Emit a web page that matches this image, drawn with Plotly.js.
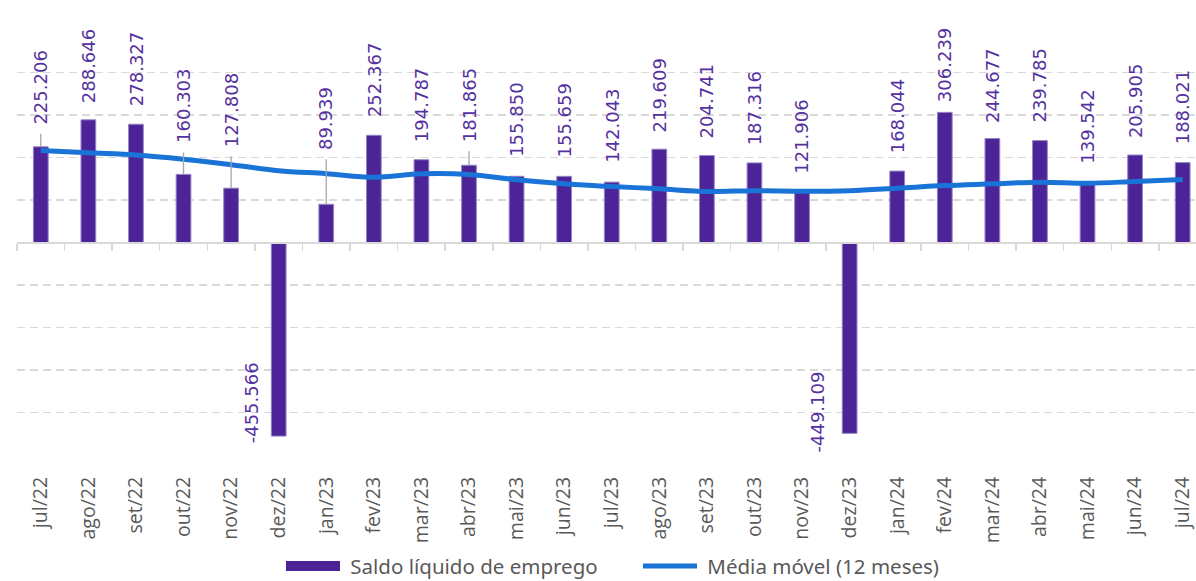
<!DOCTYPE html>
<html>
<head>
<meta charset="utf-8">
<script src="https://cdn.plot.ly/plotly-3.0.1.min.js"></script>
<style>html,body{margin:0;padding:0;background:#fff;}#chart{width:1196px;height:581px;}</style>
</head>
<body>
<div id="chart"></div>
<script>
// Data (milhares)
const categories = ['jul/22','ago/22','set/22','out/22','nov/22','dez/22','jan/23','fev/23','mar/23','abr/23','mai/23','jun/23','jul/23','ago/23','set/23','out/23','nov/23','dez/23','jan/24','fev/24','mar/24','abr/24','mai/24','jun/24','jul/24'];
const saldoLiquido = [225.206, 288.646, 278.327, 160.303, 127.808, -455.566, 89.939, 252.367, 194.787, 181.865, 155.850, 155.659, 142.043, 219.609, 204.741, 187.316, 121.906, -449.109, 168.044, 306.239, 244.677, 239.785, 139.542, 205.905, 188.021];
const mediaMovel = [216.5, 211, 206, 196, 183, 169, 162, 153.6, 161.6, 160, 147.5, 138, 131.8, 126.3, 120, 122, 120.8, 122, 127.8, 134, 138, 142, 139.6, 143.5, 148];

// Label placement styling (pixels), as manually placed in the original
const labelGap = [20, 15, 16, 29, 39, -9, 52, 16, 16, 21, 17, 17, 17, 15, 15, 16, 15, -21, 16, 8, 14, 16, 17, 15, 16];
const labelDx  = [0, 0, 0, 0, 0, -27, 0, 0, 0, 0, 0, 0, 0, 0, 0, 0, 0, -32, 0, 0, 0, 0, 0, 0, 0];
const labelLeader = [1, 0, 0, 1, 1, 0, 1, 0, 0, 1, 0, 0, 0, 0, 0, 0, 0, 0, 0, 0, 0, 0, 0, 0, 0];

const BAR = '#4C2497';
const LINE = '#1A73D6';
const LABEL = '#55319F';
const GRID = '#d9d9d9';

const boundaries = [];
for (let i = 0; i <= categories.length; i++) boundaries.push(i - 0.5);

const traces = [
  {
    type: 'bar', x: categories, y: saldoLiquido, width: 0.31,
    marker: {color: BAR, line: {color: '#9585C6', width: 1}},
    showlegend: false, hoverinfo: 'skip'
  },
  {
    type: 'scatter', mode: 'lines', x: [null], y: [null],
    name: '\u00a0Saldo líquido de emprego',
    line: {color: BAR, width: 17}, hoverinfo: 'skip'
  },
  {
    type: 'scatter', mode: 'lines', x: categories, y: mediaMovel,
    name: '\u00a0Média móvel (12 meses)',
    line: {color: LINE, width: 5, shape: 'spline', smoothing: 1},
    hoverinfo: 'skip'
  },
  {
    type: 'scatter', mode: 'lines', x: [null], y: [null], xaxis: 'x2',
    showlegend: false, hoverinfo: 'skip'
  }
];

const annotations = [];
saldoLiquido.forEach((v, i) => {
  annotations.push({
    x: categories[i], y: v, xref: 'x', yref: 'y', text: v.toFixed(3), textangle: -90,
    font: {family: 'DejaVu Sans', size: 18, color: LABEL},
    xanchor: 'center', yanchor: 'bottom', showarrow: false,
    yshift: labelGap[i], xshift: labelDx[i]
  });
  if (labelLeader[i]) {
    annotations.push({
      x: categories[i], y: v, xref: 'x', yref: 'y', text: ' ',
      font: {size: 1}, borderpad: 0,
      showarrow: true, arrowhead: 0, arrowwidth: 1.3, arrowcolor: '#a6a6a6',
      ax: 0, ay: -(labelGap[i] - 6), standoff: 0, startstandoff: 0
    });
  }
});

const layout = {
  width: 1196, height: 581,
  margin: {l: 17, r: 0, t: 40, b: 126, autoexpand: false},
  paper_bgcolor: '#fff', plot_bgcolor: '#fff',
  font: {family: 'Open Sans', color: '#595959'},
  showlegend: true,
  legend: {
    orientation: 'h', x: (281 - 17) / 1179, xanchor: 'left', y: -0.268, yanchor: 'middle',
    font: {family: 'Noto Sans', size: 20.5, color: '#595959'},
    itemwidth: 54, traceorder: 'normal',
    entrywidth: 288, entrywidthmode: 'pixels'
  },
  xaxis: {
    type: 'category', categoryarray: categories, categoryorder: 'array',
    range: [-0.5, 24.28], tickangle: -90, ticks: '', showline: false, showgrid: false,
    tickfont: {family: 'Open Sans', size: 19.5, color: '#595959'},
    ticklabelstandoff: 17, automargin: false
  },
  xaxis2: {
    type: 'linear', overlaying: 'x', anchor: 'free', position: (500 / 976.5),
    range: [-0.5, 24.28], tickmode: 'array', tickvals: boundaries,
    ticks: 'outside', ticklen: 7, tickwidth: 1.5, tickcolor: GRID,
    showticklabels: false, showgrid: false, zeroline: false,
    showline: true, linecolor: GRID, linewidth: 2, side: 'bottom'
  },
  yaxis: {
    range: [-500, 476.5], tick0: 0, dtick: 100, showticklabels: false, ticks: '',
    showgrid: true, gridcolor: GRID, gridwidth: 1.5, griddash: '8px,5px',
    zeroline: false, showline: false
  },
  annotations: annotations
};

Plotly.newPlot('chart', traces, layout, {displayModeBar: false, staticPlot: true});
</script>
</body>
</html>
